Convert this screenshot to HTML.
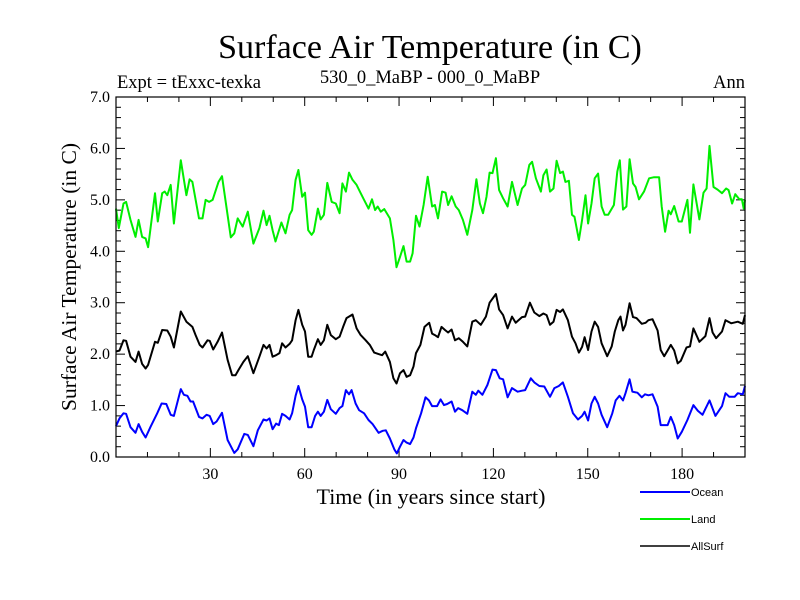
<!DOCTYPE html>
<html><head><meta charset="utf-8"><style>
body{margin:0;background:#fff;}
svg{display:block;}
</style></head><body>
<svg id="chart" width="800" height="600" xmlns="http://www.w3.org/2000/svg">
<rect width="800" height="600" fill="#fff"/>
<text x="430" y="58" text-anchor="middle" font-family="Liberation Serif, serif" font-size="34">Surface Air Temperature (in C)</text>
<text x="117" y="88" font-family="Liberation Serif, serif" font-size="18.5">Expt = tExxc-texka</text>
<text x="430" y="83" text-anchor="middle" font-family="Liberation Serif, serif" font-size="18.5">530_0_MaBP - 000_0_MaBP</text>
<text x="745" y="88" text-anchor="end" font-family="Liberation Serif, serif" font-size="18.5">Ann</text>
<text transform="translate(76,277) rotate(-90)" text-anchor="middle" font-family="Liberation Serif, serif" font-size="21.5">Surface Air Temperature (in C)</text>
<text x="431" y="504" text-anchor="middle" font-family="Liberation Serif, serif" font-size="22">Time (in years since start)</text>
<g id="ticks"></g>
<g id="series"></g>
<rect x="116" y="97" width="629" height="360" fill="none" stroke="#000" stroke-width="1.2"/>
<g font-family="Liberation Sans, sans-serif" font-size="11">
<g><line x1="640" y1="492" x2="690" y2="492" stroke="#0000ff" stroke-width="2"/><text x="691" y="496">Ocean</text></g>
<g><line x1="640" y1="519" x2="690" y2="519" stroke="#00ee00" stroke-width="2"/><text x="691" y="523">Land</text></g>
<g><line x1="640" y1="546" x2="690" y2="546" stroke="#000" stroke-width="1.5"/><text x="691" y="550">AllSurf</text></g>
</g>
</svg>
<script>
const landYears=[0,0.9,2.4,3.2,4.6,6.2,7.2,8.3,9.4,10.2,12.4,13.3,14.7,15.5,16.3,17.4,18.4,20.6,22.4,23.4,24.3,26.4,27.5,28.5,29.6,30.7,32.6,33.7,36.5,37.6,38.7,40.3,41.9,43.7,45.6,46.9,47.9,48.8,49.8,50.7,52.6,53.9,55.2,56.0,57.1,58.0,59.2,60.1,61.1,62.2,62.9,64.2,65.1,66.1,67.2,68.6,69.9,71.1,72.0,73.1,74.1,75.2,76.5,77.8,78.9,80.3,81.4,82.4,83.2,84.2,85.3,87.1,88.2,89.2,90.3,91.4,92.4,93.5,94.3,95.4,96.5,97.8,99.1,100.5,101.4,102.4,103.7,104.8,105.6,106.7,108.0,109.0,110.3,111.7,113.3,114.6,115.7,116.7,117.8,118.8,119.7,120.8,121.8,123.1,124.5,125.9,127.7,129.1,130.1,131.4,132.3,133.5,135.1,135.9,136.9,138.0,139.1,140.1,141.2,142.1,142.9,144.0,145.0,145.8,147.2,148.2,149.3,150.1,151.2,152.2,153.3,154.4,155.4,156.5,158.3,159.4,160.2,161.2,162.3,163.3,164.4,165.2,166.3,167.9,169.5,171.1,172.7,173.5,174.6,175.7,176.4,177.5,178.9,179.9,181.7,182.5,183.6,185.5,186.8,187.8,188.7,190.0,191.3,192.7,194.0,194.8,195.9,196.9,198.2,199.0,199.6,200];
const landVals=[4.83,4.45,4.93,4.96,4.61,4.28,4.61,4.28,4.25,4.08,5.13,4.58,5.13,5.16,5.09,5.29,4.54,5.77,5.09,5.40,5.35,4.64,4.64,5.00,4.96,5.00,5.35,5.46,4.27,4.35,4.64,4.48,4.77,4.15,4.45,4.79,4.51,4.69,4.41,4.19,4.56,4.35,4.71,4.80,5.39,5.58,5.06,5.14,4.41,4.32,4.38,4.83,4.62,4.71,5.33,4.96,4.93,4.74,5.32,5.16,5.53,5.39,5.29,5.13,5.00,4.83,5.01,4.80,4.87,4.77,4.82,4.64,4.22,3.69,3.89,4.10,3.80,3.80,3.96,4.69,4.48,4.90,5.45,4.87,4.90,4.64,5.16,5.14,4.90,5.07,4.87,4.80,4.61,4.32,4.80,5.40,4.93,4.74,5.06,5.53,5.52,5.81,5.19,5.03,4.87,5.35,4.90,5.22,5.29,5.68,5.74,5.42,5.16,5.48,5.59,5.16,5.22,5.76,5.52,5.55,5.35,5.37,4.71,4.67,4.22,4.61,5.09,4.54,4.93,5.42,5.51,4.87,4.71,4.71,4.90,5.55,5.77,4.81,4.87,5.79,5.32,5.25,5.01,5.16,5.42,5.44,5.44,4.87,4.38,4.79,4.72,4.88,4.58,4.58,5.00,4.36,5.30,4.62,5.14,5.22,6.05,5.25,5.20,5.13,5.22,5.19,4.93,5.11,5.01,5.01,4.83,5.00];
const allYears=[0,1.1,2.4,3.2,4.6,6.2,7.2,8.3,9.4,10.2,12.4,13.3,14.7,16.3,17.4,18.4,20.6,22.4,24.3,25.3,26.6,27.5,29.1,29.8,30.9,32.3,33.7,35.5,36.9,38.0,39.0,40.5,41.9,43.7,45.6,46.9,47.9,48.8,49.8,50.9,52.0,52.8,53.9,55.2,56.0,57.1,58.0,59.2,60.1,61.1,62.2,62.9,64.2,65.1,66.1,67.2,68.3,69.9,71.1,72.2,73.3,75.2,76.5,77.8,79.4,80.7,82.1,83.5,84.6,85.6,87.1,88.2,89.2,90.3,91.4,92.4,93.5,94.6,95.4,96.8,98.1,99.6,100.5,101.4,102.4,103.5,104.6,105.6,106.7,107.8,109.0,110.3,111.7,113.3,114.4,116.0,117.6,118.8,120.8,121.8,123.1,124.5,125.9,127.1,129.1,130.1,131.6,133.0,134.6,135.9,136.9,138.0,139.1,140.1,141.2,142.1,143.7,145.0,146.1,147.2,148.2,149.0,150.1,151.2,152.2,153.3,154.4,156.2,157.6,158.6,159.7,160.4,161.2,162.0,163.3,164.4,165.5,167.2,168.4,169.3,170.6,172.2,173.2,174.3,175.4,176.4,177.5,178.6,179.6,181.4,182.5,183.6,185.5,187.4,188.7,189.7,190.8,192.7,193.8,195.6,197.7,199.3,200];
const allVals=[2.05,2.07,2.27,2.26,1.95,1.85,2.05,1.81,1.72,1.79,2.24,2.22,2.47,2.46,2.34,2.13,2.83,2.63,2.53,2.37,2.18,2.13,2.27,2.26,2.09,2.24,2.42,1.89,1.59,1.59,1.70,1.85,1.96,1.63,1.95,2.18,2.11,2.18,1.95,1.98,2.02,2.21,2.13,2.20,2.27,2.66,2.86,2.57,2.44,1.95,1.95,2.08,2.29,2.18,2.27,2.57,2.37,2.29,2.34,2.53,2.70,2.77,2.50,2.37,2.27,2.18,2.03,2.00,1.98,2.05,1.85,1.53,1.43,1.63,1.69,1.56,1.59,1.76,2.02,2.18,2.53,2.61,2.40,2.37,2.33,2.53,2.47,2.42,2.48,2.27,2.31,2.24,2.15,2.63,2.66,2.57,2.73,3.00,3.17,2.87,2.76,2.50,2.73,2.61,2.72,2.73,3.00,2.81,2.74,2.79,2.76,2.57,2.63,2.86,2.82,2.87,2.66,2.34,2.21,2.03,2.14,2.33,2.08,2.44,2.63,2.53,2.21,1.96,2.15,2.44,2.66,2.73,2.46,2.57,2.99,2.72,2.70,2.59,2.61,2.66,2.68,2.46,2.08,1.96,2.07,2.18,2.07,1.82,1.87,2.13,2.15,2.50,2.24,2.35,2.70,2.42,2.31,2.44,2.66,2.60,2.63,2.59,2.76];
const oceanYears=[0,1.1,2.4,3.2,4.6,6.2,7.2,8.3,9.4,11.0,13.1,14.5,16.0,17.4,18.4,20.6,21.6,22.7,23.7,24.5,26.4,27.5,28.8,29.8,30.9,32.0,33.7,35.5,37.6,38.7,40.8,41.9,43.7,45.1,46.9,47.9,48.8,49.8,50.9,51.8,52.8,53.9,55.2,56.0,57.1,58.0,59.2,60.1,61.1,62.2,63.3,64.2,65.1,66.1,67.2,68.3,69.9,71.1,72.0,73.1,74.1,74.9,76.2,77.3,78.9,80.3,81.6,83.5,84.8,85.8,87.1,88.5,89.3,90.3,91.4,92.4,93.5,94.6,95.4,97.0,98.4,99.5,100.5,102.1,103.2,104.3,105.3,106.7,107.8,108.8,110.1,111.7,113.3,114.4,115.2,116.5,118.1,119.7,120.8,122.0,123.1,124.5,125.9,127.7,129.1,130.1,131.9,133.0,134.6,136.2,138.0,139.4,140.8,142.1,143.7,145.3,146.9,148.2,149.0,150.1,151.2,152.2,153.3,154.4,156.2,157.8,158.9,160.1,161.2,162.0,163.3,164.2,165.8,167.2,168.2,169.3,170.6,172.2,173.2,175.4,176.4,177.5,178.6,179.9,181.7,183.6,185.0,186.5,188.7,190.6,192.7,193.8,195.0,196.7,197.7,199.3,200];
const oceanVals=[0.60,0.75,0.85,0.84,0.58,0.47,0.64,0.49,0.38,0.59,0.85,1.04,1.03,0.82,0.80,1.32,1.21,1.19,1.08,1.08,0.78,0.75,0.82,0.80,0.64,0.69,0.86,0.33,0.08,0.15,0.45,0.43,0.21,0.52,0.73,0.71,0.75,0.54,0.65,0.62,0.84,0.80,0.73,0.85,1.19,1.38,1.12,0.98,0.58,0.58,0.80,0.88,0.80,0.88,1.11,0.93,0.84,0.95,0.99,1.30,1.22,1.30,1.04,0.91,0.85,0.72,0.64,0.47,0.51,0.52,0.36,0.15,0.07,0.20,0.33,0.28,0.25,0.38,0.56,0.85,1.16,1.10,0.99,0.99,1.12,1.01,1.03,1.08,0.88,0.95,0.91,0.84,1.27,1.21,1.29,1.21,1.40,1.70,1.69,1.53,1.51,1.16,1.34,1.27,1.29,1.30,1.53,1.45,1.38,1.37,1.17,1.34,1.38,1.45,1.17,0.85,0.73,0.80,0.88,0.71,1.04,1.17,1.04,0.82,0.58,0.85,1.10,1.19,1.10,1.24,1.51,1.27,1.25,1.16,1.22,1.20,1.22,0.98,0.62,0.62,0.78,0.62,0.36,0.49,0.72,1.01,0.90,0.82,1.10,0.80,0.99,1.24,1.17,1.17,1.24,1.22,1.38];
const yTickVals=[0,1,2,3,4,5,6,7];
const yTickLabels=["0.0","1.0","2.0","3.0","4.0","5.0","6.0","7.0"];
const xTickVals=[30,60,90,120,150,180];
const xTickLabels=["30","60","90","120","150","180"];

const X0=116,X1=745,Y0=457,Y1=97,XMIN=0,XMAX=200,YMIN=0,YMAX=7;
function sx(v){return X0+(v-XMIN)/(XMAX-XMIN)*(X1-X0);}
function sy(v){return Y0-(v-YMIN)/(YMAX-YMIN)*(Y0-Y1);}
const NS="http://www.w3.org/2000/svg";
function mk(tag,attrs,parent){const e=document.createElementNS(NS,tag);for(const k in attrs)e.setAttribute(k,attrs[k]);parent.appendChild(e);return e;}
const tg=document.getElementById('ticks');
for(let v=YMIN;v<=YMAX+1e-9;v+=0.2){
  const major=Math.abs(v-Math.round(v))<1e-6;const L=major?9:5;const y=sy(v);
  const a=mk('line',{x1:X0,y1:y,x2:X0+L,y2:y,stroke:'#000','stroke-width':1},tg);
  
  
  const b=mk('line',{x1:X1,y1:y,x2:X1-L,y2:y,stroke:'#000','stroke-width':1},tg);
  
  
}
for(let v=10;v<XMAX;v+=10){
  const major=v%30===0;const L=major?9:5;const x=sx(v);
  const a=mk('line',{x1:x,y1:Y0,x2:x,y2:Y0-L,stroke:'#000','stroke-width':1},tg);
  
  
  const b=mk('line',{x1:x,y1:Y1,x2:x,y2:Y1+L,stroke:'#000','stroke-width':1},tg);
  
  
}
yTickVals.forEach((v,i)=>{
  const t=mk('text',{x:X0-6,y:sy(v)+5,'text-anchor':'end','font-family':'Liberation Serif, serif','font-size':16},tg);
  t.textContent=yTickLabels[i];
  
  
});
xTickVals.forEach((v,i)=>{
  const t=mk('text',{x:sx(v),y:Y0+22,'text-anchor':'middle','font-family':'Liberation Serif, serif','font-size':16},tg);
  t.textContent=xTickLabels[i];
  
  
});
const sg=document.getElementById('series');
function line(xs,ys,color,w,name){
  const d=xs.map((x,i)=>(i?'L':'M')+sx(Math.min(x,XMAX)).toFixed(1)+','+sy(ys[i]).toFixed(1)).join(' ');
  const p=mk('path',{d:d,fill:'none',stroke:color,'stroke-width':w,'stroke-linejoin':'round'},sg);
  
  
}
line(landYears,landVals,'#00ee00',2,'land-line');
line(allYears,allVals,'#000000',2,'allsurf-line');
line(oceanYears,oceanVals,'#0000ff',2,'ocean-line');
</script>
</body></html>
